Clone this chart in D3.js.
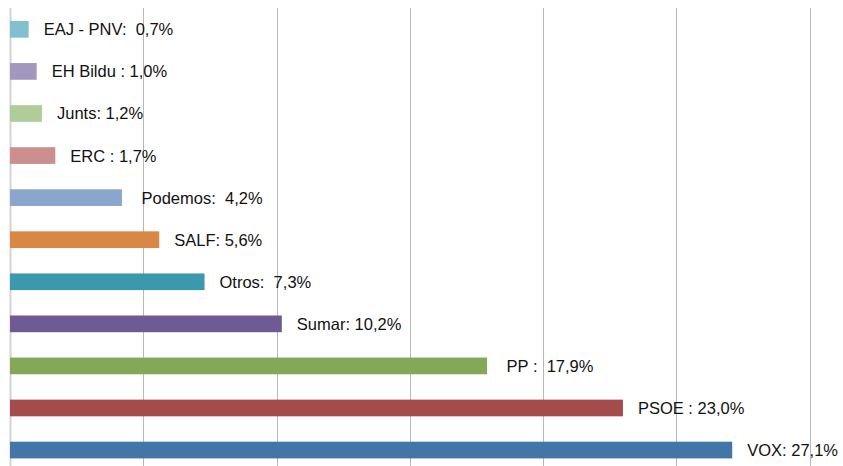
<!DOCTYPE html>
<html>
<head>
<meta charset="utf-8">
<script src="https://cdn.jsdelivr.net/npm/d3@7"></script>
<style>
  body { margin: 0; background: #fff; }
  svg { display: block; }
  text { font-family: "Liberation Sans", Arial, Helvetica, sans-serif; }
</style>
</head>
<body>
<div id="chart"></div>
<script>
// Data (top to bottom)
const parties = ['EAJ - PNV', 'EH Bildu', 'Junts', 'ERC', 'Podemos', 'SALF', 'Otros', 'Sumar', 'PP', 'PSOE', 'VOX'];
const shares = [0.7, 1.0, 1.2, 1.7, 4.2, 5.6, 7.3, 10.2, 17.9, 23.0, 27.1];
const colors = ['#82c0d0', '#a297bd', '#b0cc99', '#cd8e8e', '#8aa6cc', '#d98744', '#3c99ad', '#6f5b93', '#82a858', '#a64b4b', '#4376a8'];
// the source labels have uneven spacing around the colon
const separators = [':  ', ' : ', ': ', ' : ', ':  ', ': ', ':  ', ': ', ' :  ', ' : ', ': '];
const leading = ['', '', '', '', ' ', '', '', '', ' ', '', ''];
const gridTicks = [0, 5, 10, 15, 20, 25, 30];

const width = 843;
const height = 466;

const svg = d3.select('#chart')
    .append('svg')
    .attr('width', width)
    .attr('height', height);

const x = d3.scaleLinear()
    .domain([0, 30])
    .range([10, 809.5]);

const y = d3.scaleBand()
    .domain(parties)
    .range([8, 471.4])
    .paddingInner(0.603)
    .paddingOuter(0.309);

// Vertical gridlines
svg.append('g')
    .selectAll('line')
    .data(gridTicks)
    .enter()
    .append('line')
    .attr('x1', d => Math.round(x(d)) + 0.5)
    .attr('x2', d => Math.round(x(d)) + 0.5)
    .attr('y1', 8)
    .attr('y2', height)
    .attr('stroke', d => d === 0 ? '#d4d4d4' : '#b8b8b8')
    .attr('stroke-width', d => d === 0 ? 2 : 1);

const fmt = v => v.toFixed(1).replace('.', ',') + '%';

// Bars
svg.append('g')
    .selectAll('rect')
    .data(parties)
    .enter()
    .append('rect')
    .attr('x', x(0))
    .attr('y', d => y(d))
    .attr('width', (d, i) => x(shares[i]) - x(0))
    .attr('height', y.bandwidth())
    .attr('fill', (d, i) => colors[i]);

// Labels
svg.append('g')
    .selectAll('text')
    .data(parties)
    .enter()
    .append('text')
    .attr('x', (d, i) => x(shares[i]) + 15)
    .attr('y', d => y(d) + y.bandwidth() / 2 + 6)
    .attr('font-size', '16.5px')
    .attr('fill', '#111')
    .style('white-space', 'pre')
    .text((d, i) => leading[i] + d + separators[i] + fmt(shares[i]));
</script>
</body>
</html>
